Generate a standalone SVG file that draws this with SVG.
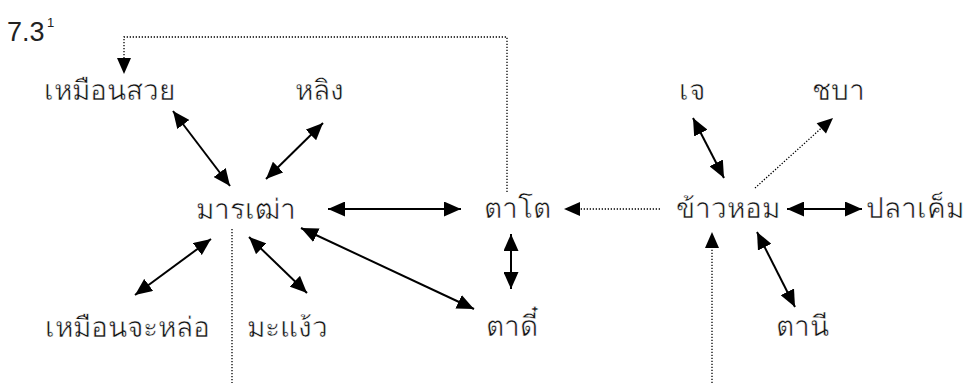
<svg xmlns="http://www.w3.org/2000/svg" width="969" height="383" viewBox="0 0 969 383">
<style>
.t{font-family:"Noto Sans","DejaVu Sans",sans-serif;font-size:28px;fill:#111;stroke:#fff;stroke-width:0.5px;text-anchor:middle}
.n{font-family:"Liberation Sans",Arial,sans-serif;fill:#222}
.s{stroke:#000;stroke-width:2;fill:none}
.d{stroke:#000;stroke-width:1.3;fill:none;stroke-dasharray:1.3 1.7}
</style>
<defs>
<marker id="a" viewBox="0 0 17 15" refX="17" refY="7.5" markerWidth="17" markerHeight="15" markerUnits="userSpaceOnUse" orient="auto-start-reverse">
<path d="M0,0 L17,7.5 L0,15 Z" fill="#000"/>
</marker>
</defs>
<rect width="969" height="383" fill="#fff"/>
<g id="title"><text class="n" x="7" y="41" font-size="27">7.3</text><text class="n" x="47" y="27" font-size="13">1</text></g>
<g id="n-muensuay"><text class="t" x="109" y="100">เหมือนสวย</text></g>
<g id="n-ling"><text class="t" x="319" y="100">หลิง</text></g>
<g id="n-je"><text class="t" x="692" y="100">เจ</text></g>
<g id="n-chaba"><text class="t" x="838" y="100">ชบา</text></g>
<g id="n-marnthao"><text class="t" x="246" y="219">มารเฒ่า</text></g>
<g id="n-tato"><text class="t" x="517" y="218">ตาโต</text></g>
<g id="n-khaohom"><text class="t" x="728" y="218">ข้าวหอม</text></g>
<g id="n-plakhem"><text class="t" x="915" y="218">ปลาเค็ม</text></g>
<g id="n-muenjalor"><text class="t" x="127" y="337">เหมือนจะหล่อ</text></g>
<g id="n-maengaew"><text class="t" x="287" y="337">มะแง้ว</text></g>
<g id="n-tadee"><text class="t" x="512" y="336">ตาดี๋</text></g>
<g id="n-tanee"><text class="t" x="802" y="336">ตานี</text></g>
<g id="connectors">
<path class="d" d="M507,192 V37 H124 V60" />
<path d="M117,58 L131,58 L124,74 Z" fill="#000"/>
<line class="s" x1="173" y1="111" x2="230" y2="186" marker-start="url(#a)" marker-end="url(#a)"/>
<line class="s" x1="323" y1="123" x2="266" y2="179" marker-start="url(#a)" marker-end="url(#a)"/>
<line class="s" x1="328" y1="209" x2="461" y2="209" marker-start="url(#a)" marker-end="url(#a)"/>
<line class="s" x1="301" y1="228" x2="474" y2="309" marker-start="url(#a)" marker-end="url(#a)"/>
<line class="s" x1="211" y1="239" x2="135" y2="295" marker-start="url(#a)" marker-end="url(#a)"/>
<line class="s" x1="249" y1="237" x2="307" y2="293" marker-start="url(#a)" marker-end="url(#a)"/>
<path class="d" d="M232,229 V383"/>
<line class="s" x1="511" y1="234" x2="511" y2="289" marker-start="url(#a)" marker-end="url(#a)"/>
<line class="d" x1="660" y1="209" x2="572" y2="209"/>
<path d="M564,209 L580,202 L580,216 Z" fill="#000"/>
<line class="s" x1="693" y1="118" x2="724" y2="178" marker-start="url(#a)" marker-end="url(#a)"/>
<line class="d" x1="755" y1="188" x2="827" y2="123"/>
<path d="M833,118 L826,133.6 L816.6,123.2 Z" fill="#000"/>
<line class="s" x1="787" y1="209" x2="862" y2="209" marker-start="url(#a)" marker-end="url(#a)"/>
<line class="s" x1="757" y1="232" x2="795" y2="307" marker-start="url(#a)" marker-end="url(#a)"/>
<path class="d" d="M712,383 V242"/>
<path d="M712,232 L719,248 L705,248 Z" fill="#000"/>
</g>
</svg>
